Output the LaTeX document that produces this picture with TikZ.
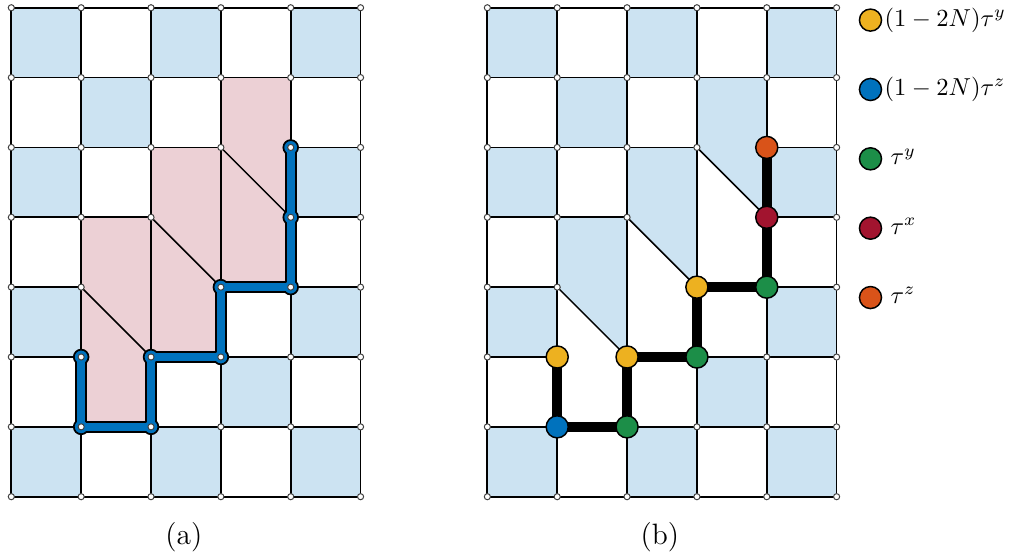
\documentclass[tikz,border=0pt]{standalone}
\definecolor{mblue}{RGB}{0,114,189}
\definecolor{mred}{RGB}{162,20,47}
\definecolor{myellow}{RGB}{237,177,32}
\definecolor{morange}{RGB}{217,83,25}
\definecolor{mgreen}{RGB}{28,142,72}
\colorlet{cellblue}{mblue!20}
\colorlet{cellpink}{mred!20}
\newcommand\checkerfill{%
  \foreach \j in {0,...,6}{\foreach \i in {0,...,4}{%
    \pgfmathtruncatemacro\pp{mod(\i+\j,2)}%
    \ifnum\pp=0 \fill[cellblue] (\i,\j) rectangle ++(1,1);\fi}}%
}
\newcommand\latticelines{%
  \foreach \x in {0,...,5}{\draw[gridline] (\x,0) -- (\x,7);}
  \draw[gridline] (0,0) -- (5,0) (0,1) -- (5,1)
    (0,2) -- (1,2) (2,2) -- (5,2)
    (0,3) -- (1,3) (3,3) -- (5,3)
    (0,4) -- (2,4) (4,4) -- (5,4)
    (0,5) -- (3,5) (4,5) -- (5,5)
    (0,6) -- (5,6) (0,7) -- (5,7);
  \draw[diagline] (1,3) -- (2,2) (2,4) -- (3,3) (3,5) -- (4,4);
  \foreach \x in {0,...,5}{\foreach \y in {0,...,7}{%
    \pgfmathtruncatemacro\code{10*\x+\y}%
    \ifnum\code=23 \else\ifnum\code=34 \else
      \filldraw[latdot] (\x,\y) circle (1.25pt);
    \fi\fi}}%
}
\begin{document}
\begin{tikzpicture}[x=1cm,y=1cm,
  gridline/.style={line width=0.7pt, black},
  diagline/.style={line width=0.6pt, black},
  latdot/.style={fill=white, draw=black!75, line width=0.4pt},
  op/.style={circle, draw=black, line width=0.6pt, inner sep=0pt, minimum size=9pt},
  legtext/.style={anchor=base west, inner sep=0pt, yshift=-2.5pt},
  caption/.style={font=\large},
]
\useasboundingbox (-0.162,-0.906) rectangle (14.412,7.111);

% ---------- panel (a) ----------
\begin{scope}
  \checkerfill
  \fill[cellpink] (1,1) -- (1,4) -- (2,4) -- (2,5) -- (3,5) -- (3,6) -- (4,6)
    -- (4,3) -- (3,3) -- (3,2) -- (2,2) -- (2,1) -- cycle;
  \latticelines
  \coordinate (a1) at (1,2);
  \coordinate (a2) at (1,1);
  \coordinate (a3) at (2,1);
  \coordinate (a4) at (2,2);
  \coordinate (a5) at (3,2);
  \coordinate (a6) at (3,3);
  \coordinate (a7) at (4,3);
  \coordinate (a8) at (4,4);
  \coordinate (a9) at (4,5);
  \draw[line width=4.8pt, black, line cap=round, line join=round]
    (a1) -- (a2) -- (a3) -- (a4) -- (a5) -- (a6) -- (a7) -- (a8) -- (a9);
  \foreach \k in {1,...,9}{\filldraw[fill=mblue, draw=black, line width=0.7pt] (a\k) circle (3pt);}
  \draw[line width=3.2pt, mblue, line cap=round, line join=round]
    (a1) -- (a2) -- (a3) -- (a4) -- (a5) -- (a6) -- (a7) -- (a8) -- (a9);
  \foreach \k in {1,...,9}{\filldraw[latdot] (a\k) circle (1.25pt);}
\end{scope}

% ---------- panel (b) ----------
\begin{scope}[xshift=6.815cm]
  \checkerfill
  \fill[white] (1,1) -- (1,4) -- (2,4) -- (2,5) -- (3,5) -- (3,6) -- (4,6)
    -- (4,3) -- (3,3) -- (3,2) -- (2,2) -- (2,1) -- cycle;
  \fill[cellblue] (1,4) -- (2,4) -- (2,2) -- (1,3) -- cycle;
  \fill[cellblue] (2,5) -- (3,5) -- (3,3) -- (2,4) -- cycle;
  \fill[cellblue] (3,6) -- (4,6) -- (4,4) -- (3,5) -- cycle;
  \latticelines
  \coordinate (b1) at (1,2);
  \coordinate (b2) at (1,1);
  \coordinate (b3) at (2,1);
  \coordinate (b4) at (2,2);
  \coordinate (b5) at (3,2);
  \coordinate (b6) at (3,3);
  \coordinate (b7) at (4,3);
  \coordinate (b8) at (4,4);
  \coordinate (b9) at (4,5);
  \draw[line width=4pt, black, line join=round]
    (b1) -- (b2) -- (b3) -- (b4) -- (b5) -- (b6) -- (b7) -- (b8) -- (b9);
  \node[op, fill=myellow] (n1) at (b1) {};
  \node[op, fill=mblue]   (n2) at (b2) {};
  \node[op, fill=mgreen]  (n3) at (b3) {};
  \node[op, fill=myellow] (n4) at (b4) {};
  \node[op, fill=mgreen]  (n5) at (b5) {};
  \node[op, fill=myellow] (n6) at (b6) {};
  \node[op, fill=mgreen]  (n7) at (b7) {};
  \node[op, fill=mred]    (n8) at (b8) {};
  \node[op, fill=morange] (n9) at (b9) {};
\end{scope}

% ---------- legend ----------
\node[op, fill=myellow] (l1) at (12.30,6.823) {};
\node[op, fill=mblue]   (l2) at (12.30,5.830) {};
\node[op, fill=mgreen]  (l3) at (12.30,4.837) {};
\node[op, fill=mred]    (l4) at (12.30,3.844) {};
\node[op, fill=morange] (l5) at (12.30,2.851) {};
\node[legtext] (t1) at (12.494,6.823) {$(1-2N)\tau^y$};
\node[legtext] (t2) at (12.494,5.830) {$(1-2N)\tau^z$};
\node[legtext] (t3) at (12.58,4.837) {$\tau^y$};
\node[legtext] (t4) at (12.58,3.844) {$\tau^x$};
\node[legtext] (t5) at (12.58,2.851) {$\tau^z$};

% ---------- captions ----------
\node[caption] (capa) at (2.47,-0.58) {(a)};
\node[caption] (capb) at (9.285,-0.58) {(b)};
\end{tikzpicture}
\end{document}
